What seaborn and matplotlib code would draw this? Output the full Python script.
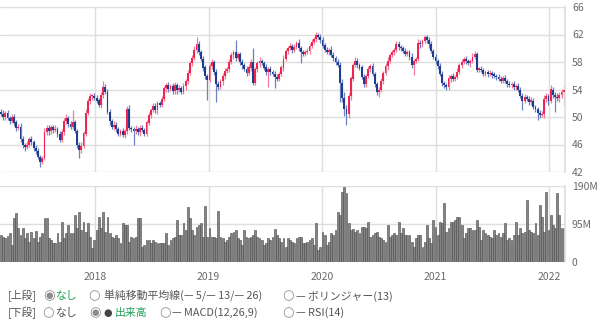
import numpy as np
import pandas as pd
import matplotlib
matplotlib.use('Agg')
import matplotlib.pyplot as plt
import seaborn as sns

# weekly candles, Mar 2017 - Feb 2022
dates = pd.date_range('2017-03-03', periods=260, freq='W-FRI')
first_open = 50.8
closes = [
    50.5, 50.0, 50.6, 49.8, 49.4, 50.0, 49.2, 48.4, 48.6, 46.8,
    45.9, 45.6, 46.0, 46.8, 46.3, 45.5, 45.0, 44.2, 43.5, 44.0,
    47.8, 48.4, 47.9, 48.5, 48.1, 48.3, 47.6, 46.7, 47.8, 49.4,
    49.9, 49.0, 48.6, 49.2, 48.0, 46.0, 45.2, 45.8, 47.6, 50.6,
    52.3, 53.0, 53.1, 52.7, 52.4, 51.8, 53.2, 54.4, 53.6, 50.8,
    49.4, 48.5, 48.9, 48.3, 47.6, 47.9, 47.4, 47.9, 51.2, 48.4,
    48.2, 47.9, 48.3, 47.8, 48.4, 48.1, 47.6, 49.2, 50.3, 51.0,
    51.6, 51.0, 52.0, 51.8, 52.6, 54.2, 54.6, 54.1, 54.5, 53.8,
    54.6, 53.9, 54.2, 53.7, 54.5, 55.2, 56.4, 57.8, 58.6, 59.8,
    60.6, 59.4, 58.4, 57.2, 56.0, 55.4, 57.4, 58.0, 56.6, 54.8,
    54.4, 55.2, 56.0, 56.7, 57.0, 58.0, 59.0, 59.4, 58.6, 59.1,
    58.0, 57.5, 57.0, 56.4, 57.2, 58.0, 55.0, 57.0, 57.8, 58.2,
    57.8, 57.2, 56.6, 57.0, 56.5, 56.2, 55.8, 55.6, 56.3, 57.2,
    58.5, 59.6, 60.0, 60.3, 59.8, 60.2, 60.8, 60.0, 59.5, 59.2,
    59.4, 59.6, 60.4, 60.9, 61.3, 61.9, 61.7, 61.2, 60.4, 59.8,
    59.5, 59.8, 59.0, 58.6, 58.0, 57.6, 55.0, 52.8, 51.2, 50.4,
    53.0, 55.6, 57.6, 58.2, 57.6, 57.2, 55.8, 54.8, 56.0, 57.0,
    57.4, 56.2, 54.8, 53.6, 54.0, 55.2, 56.4, 57.4, 58.2, 59.0,
    59.4, 59.8, 60.6, 60.2, 60.0, 59.6, 59.2, 59.4, 58.8, 57.6,
    58.2, 58.4, 60.8, 60.6, 61.0, 61.6, 61.2, 60.6, 59.6, 58.8,
    58.2, 57.4, 56.3, 55.0, 54.6, 54.3, 55.6, 56.0, 55.6, 55.8,
    56.6, 57.6, 58.0, 58.4, 58.1, 57.8, 58.2, 58.8, 59.2, 56.9,
    57.0, 56.8, 56.3, 56.5, 56.2, 56.4, 56.1, 56.0, 55.8, 55.5,
    55.3, 55.7, 55.2, 54.8, 54.6, 54.8, 54.3, 54.5, 54.0, 53.1,
    52.4, 52.9, 52.6, 52.2, 52.4, 51.4, 51.2, 50.6, 50.3, 50.4,
    52.6, 53.0, 52.4, 54.0, 53.2, 52.9, 52.7, 53.2, 53.6, 54.0,
]
# wick length above / below the candle body
up_wick = [
    .4, .5, .3, .4, .3, .5, .4, .3, .4, .5,
    .4, .3, .5, .3, .4, .3, .4, .5, .3, .4,
    .6, .4, .5, .3, .4, .5, .3, .4, .5, .4,
    .5, .3, .4, 1.8, .4, .3, .4, .5, .4, .5,
    .4, .5, .3, .4, .5, .3, .4, .8, .4, .5,
    .4, .3, .5, .4, .3, .4, .5, .3, .4, .5,
    .3, .4, .5, .3, .4, .5, .3, .4, .5, .3,
    .4, .5, .3, .4, .5, .3, .4, .5, .3, .4,
    .5, .3, .4, .3, .5, .4, .5, .3, .4, .5,
    1.0, .4, .3, .5, .4, .3, .4, .5, .3, .4,
    .5, .3, .4, .5, .3, .4, .5, .4, 1.8, .3,
    .4, .5, .3, .4, .5, .4, 2.0, .3, .4, .5,
    .3, .4, .5, .3, .4, .3, .5, .4, .3, .4,
    .5, .3, .4, .5, .3, .4, .3, .5, .4, .3,
    .4, .5, .3, .4, .3, .4, .3, .4, .5, .3,
    .4, .3, .5, .4, .3, .5, .4, .6, .8, .6,
    .5, .4, .3, .5, .4, .3, .4, .5, .3, .4,
    .3, .5, .4, .3, .4, .5, .3, .4, .5, .3,
    .4, .3, .5, .4, .3, .4, .5, .3, .4, .5,
    .3, .4, .5, .4, .3, .4, .3, .5, .4, .3,
    .4, .3, .5, .4, .3, .4, .5, .3, .4, .3,
    .5, .3, .4, .3, .5, .4, .3, .5, .4, .3,
    .3, .4, .3, .4, .3, .4, .3, .4, .3, .4,
    .4, .3, .4, .3, .4, .3, .4, .3, .4, .3,
    .4, .5, .3, .4, .5, .3, .4, .3, .4, .5,
    .6, .5, .4, .6, .4, .5, .6, .4, .5, .6,
]
dn_wick = [
    .3, .4, .5, .3, .4, .3, .5, .4, .3, .5,
    .4, .5, .3, .4, .3, .5, .4, .3, .8, .4,
    .3, .4, .5, .3, .4, .3, .5, .4, .3, .4,
    .4, .5, .3, .4, .3, .5, 1.2, .4, .3, .4,
    .3, .4, .5, .3, .4, .3, .5, .4, .3, .4,
    .5, .3, .4, .5, .3, .4, .3, .5, .4, .3,
    .4, 1.9, .3, .4, .5, .3, .4, .3, .4, .5,
    .3, .4, .5, .3, .4, .3, .5, .4, .3, .4,
    .4, .5, .3, .4, .3, .5, .4, .3, .4, .3,
    .5, .4, .3, .5, .4, 2.9, .3, .4, .5, 2.6,
    .4, .3, .5, .4, .3, .4, .3, .5, .4, .3,
    .4, .5, .3, .4, .3, .5, .4, .3, .4, .5,
    .3, .4, .5, 2.2, .4, .3, 1.6, .4, .3, .4,
    .5, .3, .4, .3, .5, .4, .3, .4, 1.6, .3,
    .4, .3, .5, .4, .3, .4, .3, .5, .4, .3,
    .4, .5, .3, .4, .5, .3, 2.8, .6, 1.0, 1.6,
    .6, .5, .4, .3, .5, .4, .3, .4, .5, .3,
    .4, .3, .5, .4, .7, .3, .4, .3, .5, .4,
    .3, .4, .3, .5, .4, .3, .4, .3, .5, .4,
    1.5, .4, .3, .5, .4, .3, .4, .5, .3, .4,
    .5, .4, .3, .5, .4, .3, .4, .5, .3, .4,
    .3, .4, .5, .3, .4, .3, .5, .4, .3, .4,
    .4, .3, .4, .3, .4, .3, .4, .3, .4, .3,
    .3, .4, .3, .4, .3, .4, .3, .4, .3, .4,
    1.4, .4, .3, .5, .4, .3, .5, 1.0, .4, .3,
    .5, .4, .6, .4, .5, 2.2, .4, .5, .4, 1.9,
]
# weekly volume, millions of shares
volume = [
    68, 63, 59, 65, 72, 43, 109, 123, 84, 68,
    84, 59, 72, 51, 76, 59, 78, 51, 62, 72,
    109, 109, 59, 55, 47, 47, 72, 51, 101, 59,
    72, 93, 72, 72, 118, 84, 126, 80, 101, 76,
    97, 63, 34, 55, 80, 113, 84, 126, 76, 113,
    72, 63, 59, 68, 59, 47, 97, 93, 93, 51,
    63, 59, 63, 109, 109, 38, 43, 55, 55, 47,
    55, 51, 47, 47, 47, 47, 72, 43, 55, 59,
    63, 105, 68, 68, 97, 80, 138, 109, 80, 68,
    88, 93, 97, 63, 140, 63, 84, 63, 63, 59,
    128, 63, 59, 51, 55, 63, 72, 76, 80, 59,
    55, 43, 80, 63, 59, 63, 68, 80, 63, 59,
    55, 43, 47, 59, 55, 63, 82, 68, 59, 51,
    59, 38, 59, 55, 51, 47, 59, 62, 63, 47,
    47, 51, 55, 59, 43, 97, 30, 38, 76, 68,
    43, 51, 72, 68, 80, 126, 118, 176, 188, 173,
    97, 80, 82, 76, 80, 72, 88, 88, 84, 101,
    63, 68, 72, 76, 63, 59, 55, 51, 93, 63,
    68, 72, 68, 101, 72, 84, 68, 68, 68, 51,
    38, 59, 68, 68, 38, 51, 93, 59, 47, 105,
    88, 68, 101, 97, 147, 76, 84, 101, 101, 105,
    113, 113, 93, 59, 72, 84, 84, 80, 80, 105,
    88, 55, 80, 72, 68, 63, 59, 80, 68, 72,
    63, 72, 97, 55, 59, 55, 68, 101, 68, 84,
    72, 76, 155, 80, 76, 72, 97, 68, 143, 113,
    76, 176, 80, 118, 93, 84, 172, 118, 84, 84,
]

price_ticks = [42, 46, 50, 54, 58, 62, 66]
vol_ticks = [0, 95, 190]
vol_labels = ['0', '95M', '190M']
years = [2018, 2019, 2020, 2021, 2022]

sns.set_theme(style='white')
plt.rcParams['font.family'] = ['Noto Sans CJK JP', 'DejaVu Sans']

closes = np.array(closes)
opens = np.r_[first_open, closes[:-1]]
up = closes >= opens
top = np.maximum(opens, closes)
bot = np.minimum(opens, closes)
highs = top + np.array(up_wick)
lows = bot - np.array(dn_wick)
x = np.arange(len(closes))
year_pos = [(pd.Timestamp(f'{y}-01-01') - dates[0]).days / 7 for y in years]

fig = plt.figure(figsize=(6, 3.24), dpi=100)
ax1 = fig.add_axes([0, 1 - 172 / 324, 565 / 600, 165 / 324])
ax2 = fig.add_axes([0, 1 - 262 / 324, 565 / 600, 76 / 324])

red, blue = '#ee2452', '#1f3d8c'
ax1.vlines(x[up], lows[up], highs[up], color='#f27d98', lw=0.9, zorder=2)
ax1.vlines(x[~up], lows[~up], highs[~up], color='#6a82c0', lw=0.9, zorder=2)
ax1.bar(x, np.maximum(top - bot, 0.2), bottom=bot, width=0.85,
        color=np.where(up, red, blue), linewidth=0, zorder=3)

sns.barplot(x=x, y=volume, native_scale=True, color='#858585', saturation=1,
            edgecolor='#4a4a4a', linewidth=0.4, width=0.85, errorbar=None, ax=ax2)

grid_c = '#dedede'
label_c = '#6a6a6a'
for ax in (ax1, ax2):
    ax.set_xlim(-0.46, 259.6)
    ax.set_xticks(year_pos)
    ax.grid(True, color=grid_c, lw=1)
    ax.set_axisbelow(True)
    ax.yaxis.tick_right()
    ax.tick_params(length=0, labelsize=7.5, labelcolor=label_c, pad=5)
    ax.set_xlabel('')
    ax.set_ylabel('')
    for s in ax.spines.values():
        s.set_visible(False)
    ax.spines['right'].set_visible(True)
    ax.spines['right'].set_color(grid_c)

ax1.set_ylim(42, 66)
ax1.set_yticks(price_ticks)
ax1.tick_params(axis='x', labelbottom=False)

ax2.set_ylim(0, 190)
ax2.set_yticks(vol_ticks)
ax2.set_yticklabels(vol_labels)
ax2.set_xticklabels([str(y) for y in years])
ax2.tick_params(axis='x', pad=7)

# option rows under the chart
gray, green, dark, ring = '#555555', '#22a05a', '#444444', '#8c8c8c'
fs = 7.8
def put(px, py, s, c=gray, size=fs):
    fig.text(px / 600, 1 - py / 324, s, color=c, fontsize=size, va='center', ha='left',
             family=['DejaVu Sans'] if s in ('○', '◉', '●') else None)

put(8, 296, '[上段]')
put(43, 296, '◉', ring, 9.5)
put(55, 296, 'なし', green)
put(88, 296, '○', ring, 9.5)
put(104, 296, '単純移動平均線(— 5/— 13/— 26)')
put(282, 296, '○', ring, 9.5)
put(296, 296, '— ボリンジャー(13)')

put(8, 313, '[下段]')
put(42, 313, '○', ring, 9.5)
put(55, 313, 'なし')
put(89, 313, '◉', ring, 9.5)
put(103, 313, '●', dark, 7)
put(115, 313, '出来高', green)
put(159, 313, '○', ring, 9.5)
put(172, 313, '— MACD(12,26,9)')
put(282, 313, '○', ring, 9.5)
put(296, 313, '— RSI(14)')

fig.savefig('out.png', dpi=100)
